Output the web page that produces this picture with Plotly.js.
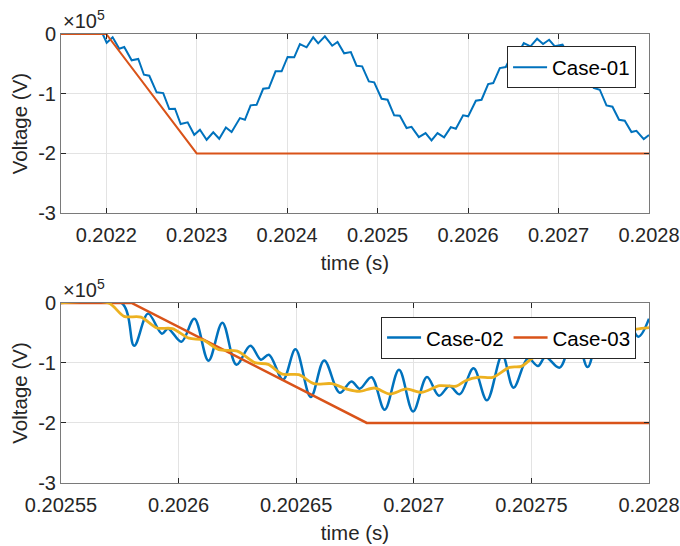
<!DOCTYPE html>
<html><head><meta charset="utf-8">
<script src="https://cdn.plot.ly/plotly-3.0.1.min.js"></script>
<style>html,body{margin:0;padding:0;background:#fff}</style>
</head><body><div id="chart" style="width:680px;height:546px"></div>
<script>
// ---- Data (voltage in units of 1e5 V, time in s) ----
const case01Time = [0.20215,0.2021961,0.2022005,0.2022071,0.2022144,0.2022199,0.2022281,0.2022354,0.2022417,0.2022476,0.2022557,0.2022630,0.2022697,0.2022760,0.2022823,0.2022900,0.2022973,0.2023036,0.2023110,0.2023183,0.2023249,0.2023323,0.2023386,0.2023478,0.2023533,0.2023596,0.2023662,0.2023735,0.2023798,0.2023872,0.2023939,0.2024005,0.2024078,0.2024141,0.2024215,0.2024288,0.2024343,0.2024417,0.2024498,0.2024557,0.2024630,0.2024704,0.2024767,0.2024829,0.2024903,0.2024962,0.2025044,0.2025110,0.2025183,0.2025246,0.2025320,0.2025375,0.2025456,0.2025530,0.2025596,0.2025662,0.2025735,0.2025809,0.2025865,0.2025945,0.2026001,0.2026086,0.2026149,0.2026222,0.2026278,0.2026351,0.2026417,0.2026483,0.2026550,0.2026616,0.2026690,0.2026763,0.2026829,0.2026896,0.2026959,0.2027044,0.2027102,0.2027169,0.2027246,0.2027312,0.2027364,0.2027389,0.2027456,0.2027530,0.2027596,0.2027669,0.2027732,0.2027806,0.2027861,0.2027942,0.2028];
const case01V = [0,0,-0.146,-0.055,-0.246,-0.218,-0.441,-0.419,-0.682,-0.699,-0.977,-0.989,-1.257,-1.252,-1.508,-1.480,-1.688,-1.604,-1.771,-1.647,-1.755,-1.564,-1.642,-1.408,-1.436,-1.195,-1.185,-0.917,-0.905,-0.625,-0.625,-0.385,-0.390,-0.168,-0.223,-0.055,-0.156,-0.039,-0.196,-0.134,-0.323,-0.302,-0.531,-0.541,-0.793,-0.809,-1.084,-1.101,-1.362,-1.369,-1.575,-1.554,-1.726,-1.659,-1.781,-1.659,-1.731,-1.559,-1.587,-1.362,-1.379,-1.118,-1.101,-0.838,-0.821,-0.570,-0.553,-0.352,-0.335,-0.151,-0.206,-0.079,-0.168,-0.096,-0.206,-0.179,-0.335,-0.335,-0.553,-0.570,-0.766,-0.905,-0.933,-1.195,-1.218,-1.436,-1.453,-1.642,-1.621,-1.760,-1.690];
const refTopTime = [0.20215,0.2022,0.2023,0.2028];
const refTopV = [0,0,-2,-2];

const case02Time = [0.20255,0.2025758,0.2025811,0.2025870,0.2025929,0.2025955,0.2026012,0.2026067,0.2026127,0.2026186,0.2026246,0.2026305,0.2026350,0.2026384,0.2026444,0.2026497,0.2026562,0.2026619,0.2026685,0.2026735,0.2026770,0.2026820,0.2026876,0.2026937,0.2026997,0.2027056,0.2027107,0.2027152,0.2027195,0.2027254,0.2027311,0.2027376,0.2027424,0.2027485,0.2027528,0.2027560,0.2027620,0.2027684,0.2027739,0.2027798,0.2027860,0.2027909,0.2027955,0.2028];
const case02V = [0,0,-0.712,-0.178,-0.512,-0.428,-0.645,-0.262,-0.962,-0.328,-1.028,-0.712,-0.945,-0.862,-1.278,-0.773,-1.567,-0.957,-1.495,-1.307,-1.428,-1.237,-1.778,-1.112,-1.807,-1.233,-1.545,-1.383,-1.523,-1.090,-1.623,-0.867,-1.412,-0.923,-1.050,-0.900,-1.078,-0.445,-1.067,-0.362,-0.778,-0.312,-0.562,-0.262];
const case03Time = [0.20255,0.20258,0.20268,0.2028];
const case03V = [0,0,-2,-2];
const avgTime = [0.20255,0.2025702,0.2025768,0.2025840,0.2025908,0.2025974,0.2026044,0.2026104,0.2026171,0.2026250,0.2026324,0.2026381,0.2026441,0.2026511,0.2026575,0.2026651,0.2026719,0.2026770,0.2026833,0.2026898,0.2026968,0.2027032,0.2027110,0.2027181,0.2027220,0.2027278,0.2027336,0.2027407,0.2027457,0.2027506,0.2027563,0.2027620,0.2027671,0.2027747,0.2027811,0.2027875,0.2027947,0.2028];
const avgV = [0,0,-0.223,-0.237,-0.417,-0.428,-0.587,-0.617,-0.778,-0.803,-0.995,-1.023,-1.187,-1.195,-1.345,-1.345,-1.440,-1.473,-1.417,-1.517,-1.433,-1.490,-1.378,-1.387,-1.295,-1.237,-1.240,-1.073,-1.057,-0.917,-0.862,-0.778,-0.712,-0.645,-0.545,-0.495,-0.437,-0.412];

const topTicks = [0.2022,0.2023,0.2024,0.2025,0.2026,0.2027,0.2028];
const topTickText = ['0.2022','0.2023','0.2024','0.2025','0.2026','0.2027','0.2028'];
const botTicks = [0.20255,0.2026,0.20265,0.2027,0.20275,0.2028];
const botTickText = ['0.20255','0.2026','0.20265','0.2027','0.20275','0.2028'];
const yTicks = [-3,-2,-1,0];
const yTickText = ['-3','-2','-1','0'];

// ---- Styling ----
const FONT = 'Liberation Sans, Arial, Helvetica, sans-serif';
const BLUE = '#0072BD', ORANGE = '#D95319', YELLOW = '#EDB120';
const TXT = '#262626';

const traces = [
  {x: case01Time, y: case01V, type: 'scatter', mode: 'lines', name: 'Case-01',
   line: {color: BLUE, width: 2}, xaxis: 'x', yaxis: 'y', legend: 'legend'},
  {x: refTopTime, y: refTopV, type: 'scatter', mode: 'lines', name: 'ref',
   line: {color: ORANGE, width: 2}, xaxis: 'x', yaxis: 'y', showlegend: false},
  {x: case02Time, y: case02V, type: 'scatter', mode: 'lines', name: 'Case-02',
   line: {color: BLUE, width: 2.5, shape: 'spline', smoothing: 1}, xaxis: 'x2', yaxis: 'y2', legend: 'legend2'},
  {x: case03Time, y: case03V, type: 'scatter', mode: 'lines', name: 'Case-03',
   line: {color: ORANGE, width: 2.5}, xaxis: 'x2', yaxis: 'y2', legend: 'legend2'},
  {x: avgTime, y: avgV, type: 'scatter', mode: 'lines', name: 'avg',
   line: {color: YELLOW, width: 2.8, shape: 'spline', smoothing: 0.8}, xaxis: 'x2', yaxis: 'y2', showlegend: false}
];

function xAxis(range, tv, tt, anchor){
  return {range: range, tickvals: tv, ticktext: tt, anchor: anchor,
    showgrid: true, gridcolor: '#e3e3e3', gridwidth: 1, zeroline: false,
    showline: true, linecolor: '#7a7a7a', linewidth: 1, mirror: 'ticks',
    ticks: 'inside', ticklen: 5, tickcolor: TXT, ticklabelstandoff: 4,
    tickfont: {family: FONT, size: 20, color: TXT},
    title: {text: 'time (s)', font: {family: FONT, size: 20.5, color: TXT}, standoff: 10},
    automargin: false};
}
function yAxis(domain, anchor){
  return {range: [-3, 0], domain: domain, tickvals: yTicks, ticktext: yTickText, anchor: anchor,
    showgrid: true, gridcolor: '#e3e3e3', gridwidth: 1, zeroline: false,
    showline: true, linecolor: '#7a7a7a', linewidth: 1, mirror: 'ticks',
    ticks: 'inside', ticklen: 5, tickcolor: TXT,
    tickfont: {family: FONT, size: 20, color: TXT},
    title: {text: 'Voltage (V)', font: {family: FONT, size: 20.5, color: TXT}, standoff: 5},
    automargin: false};
}

const layout = {
  width: 680, height: 546,
  margin: {l: 61, r: 30.5, t: 34, b: 63, pad: 0},
  paper_bgcolor: '#ffffff', plot_bgcolor: '#ffffff',
  font: {family: FONT, color: TXT},
  xaxis: xAxis([0.20215, 0.2028], topTicks, topTickText, 'y'),
  yaxis: yAxis([0.601, 1], 'x'),
  xaxis2: xAxis([0.20255, 0.2028], botTicks, botTickText, 'y2'),
  yaxis2: yAxis([0, 0.401], 'x2'),
  legend: {x: 0.978, xanchor: 'right', y: 0.9722, yanchor: 'top',
    bgcolor: '#ffffff', bordercolor: TXT, borderwidth: 1, itemwidth: 34,
    font: {family: FONT, size: 20.5, color: '#000'}},
  legend2: {x: 0.978, xanchor: 'right', y: 0.3704, yanchor: 'top', orientation: 'h',
    bgcolor: '#ffffff', bordercolor: TXT, borderwidth: 1, itemwidth: 34,
    font: {family: FONT, size: 20.5, color: '#000'}},
  annotations: [
    {xref: 'paper', yref: 'paper', x: 0, y: 1, xanchor: 'left', yanchor: 'bottom',
     text: '×10<sup>5</sup>', showarrow: false, font: {family: FONT, size: 20, color: TXT}},
    {xref: 'paper', yref: 'paper', x: 0, y: 0.401, xanchor: 'left', yanchor: 'bottom',
     text: '×10<sup>5</sup>', showarrow: false, font: {family: FONT, size: 20, color: TXT}}
  ],
  showlegend: true
};

Plotly.newPlot('chart', traces, layout, {displayModeBar: false, staticPlot: true});
</script></body></html>
